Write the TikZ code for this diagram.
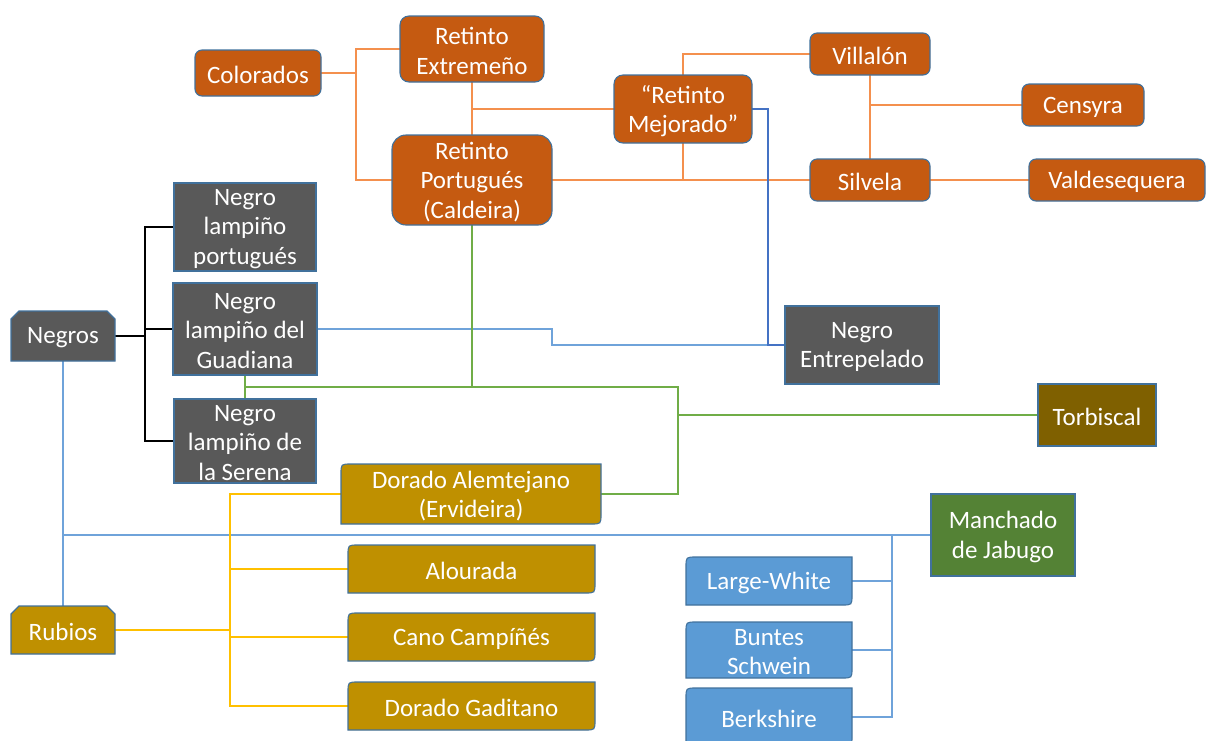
\documentclass[tikz,border=0pt]{standalone}
\usepackage{fontspec}
\setmainfont{Carlito}
\usetikzlibrary{backgrounds}
\definecolor{orfill}{HTML}{C55A11}
\definecolor{gyfill}{HTML}{595959}
\definecolor{gdfill}{HTML}{BF9000}
\definecolor{bufill}{HTML}{5B9BD5}
\definecolor{gnfill}{HTML}{548235}
\definecolor{brfill}{HTML}{7F6000}
\definecolor{boxline}{HTML}{41719C}
\definecolor{orline}{HTML}{F4904E}
\definecolor{buline}{HTML}{6FA3DA}
\definecolor{dbline}{HTML}{4472C4}
\definecolor{gnline}{HTML}{70AD47}
\definecolor{ylline}{HTML}{FFC000}
\tikzset{
  bd/.style={draw=boxline, line width=1.1pt},
  lbl/.style={text=white, font=\fontsize{25}{29.5}\selectfont, align=center, inner sep=0pt, yshift=-2pt},
  anchorbox/.style={inner sep=0pt, outer sep=0pt},
  ol/.style={draw=orline, line width=2pt},
  kl/.style={draw=black, line width=2pt},
  bl/.style={draw=buline, line width=2pt},
  dl/.style={draw=dbline, line width=2pt},
  gl/.style={draw=gnline, line width=2pt},
  yl/.style={draw=ylline, line width=2pt},
}
\newcommand\place[6]{%
  \node[anchorbox, minimum width={#4-#2}, minimum height={#5-#3}, label={[lbl]center:{#6}}] (#1) at ({(#2+#4)/2},{(#3+#5)/2}) {};}
\newcommand\RRbox[8]{%
  \filldraw[bd, fill=#6, rounded corners=#7] (#2,#3) rectangle (#4,#5);
  \place{#1}{#2}{#3}{#4}{#5}{#8}}
\newcommand\SQbox[7]{%
  \filldraw[bd, fill=#6] (#2,#3) rectangle (#4,#5);
  \place{#1}{#2}{#3}{#4}{#5}{#7}}
\newcommand\SNbox[7]{%
  \filldraw[bd, fill=#6] (#2,#3+8) -- (#2+8,#3) -- (#4-8,#3) -- (#4,#3+8) -- (#4,#5) -- (#2,#5) -- cycle;
  \place{#1}{#2}{#3}{#4}{#5}{#7}}
\newcommand\DGbox[7]{%
  \filldraw[bd, fill=#6] (#2,#3+10) .. controls (#2,#3) .. (#2+10,#3) -- (#4,#3) -- (#4,#5-10) .. controls (#4,#5) .. (#4-10,#5) -- (#2,#5) -- cycle;
  \place{#1}{#2}{#3}{#4}{#5}{#7}}
\begin{document}
\begin{tikzpicture}[x=1pt, y=-1pt]
\useasboundingbox (0,0) rectangle (1206,740);
% orange family
\RRbox{colorados}{195}{50}{321}{96}{orfill}{7pt}{Colorados}
\RRbox{rext}{400}{16}{544}{82}{orfill}{9pt}{Retinto\\Extremeño}
\RRbox{rport}{392}{135}{552}{225}{orfill}{14pt}{Retinto\\Portugués\\(Caldeira)}
\RRbox{rmej}{614}{75}{752}{143}{orfill}{9pt}{“Retinto\\Mejorado”}
\RRbox{villalon}{810}{33}{930}{75}{orfill}{7pt}{Villalón}
\RRbox{censyra}{1022}{84}{1144}{126}{orfill}{7pt}{Censyra}
\RRbox{silvela}{810}{159}{930}{201}{orfill}{7pt}{Silvela}
\RRbox{valdes}{1029}{159}{1205}{201}{orfill}{7pt}{Valdesequera}
% black family
\SNbox{negros}{11}{311}{115}{361}{gyfill}{Negros}
\SQbox{nlp}{174}{183}{316}{271}{gyfill}{Negro\\lampiño\\portugués}
\SQbox{nlg}{173}{283}{317}{375}{gyfill}{Negro\\lampiño del\\Guadiana}
\SQbox{nls}{174}{399}{316}{483}{gyfill}{Negro\\lampiño de\\la Serena}
\SQbox{ne}{785}{306}{939}{384}{gyfill}{Negro\\Entrepelado}
\SQbox{torb}{1038}{384}{1156}{446}{brfill}{Torbiscal}
\SQbox{manch}{931}{494}{1075}{576}{gnfill}{Manchado\\de Jabugo}
% golden family
\SNbox{rubios}{11}{606}{115}{654}{gdfill}{Rubios}
\DGbox{da}{341}{464}{601}{524}{gdfill}{Dorado Alemtejano\\(Ervideira)}
\DGbox{alou}{348}{545}{595}{593}{gdfill}{Alourada}
\DGbox{cano}{348}{613}{595}{661}{gdfill}{Cano Campíñés}
\DGbox{dg}{348}{682}{595}{730}{gdfill}{Dorado Gaditano}
% blue family
\DGbox{lw}{686}{557}{852}{605}{bufill}{Large-White}
\DGbox{bs}{686}{622}{852}{678}{bufill}{Buntes\\Schwein}
\DGbox{bk}{686}{688}{852}{746}{bufill}{Berkshire}
\begin{pgfonlayer}{background}
% junctions
\coordinate (jc) at (356,73);
\coordinate (jn) at (145,336);
\coordinate (g1) at (245,387);
\coordinate (g2) at (678,387);
\coordinate (jy) at (230,630);
\coordinate (jm) at (892,535);
\coordinate (jb) at (552,329);
\coordinate (jd) at (768,109);
% orange
\draw[ol] (colorados.east) -- (jc);
\draw[ol] (rext.west) -| (jc) |- (rport.west);
\draw[ol] (rext.south) -- (rport.north);
\draw[ol] (rmej.west) -- (rmej.west -| rext.south);
\draw[ol] (rport.east) -- (silvela.west);
\draw[ol] (rmej.south) -- (rmej.south |- silvela.west);
\draw[ol] (rmej.north) |- (villalon.west);
\draw[ol] (villalon.south) -- (silvela.north);
\draw[ol] (censyra.west) -- (censyra.west -| villalon.south);
\draw[ol] (silvela.east) -- (valdes.west);
% black
\draw[kl] (negros.east) -- (jn);
\draw[kl] (nlp.west) -| (jn) |- (nls.west);
\draw[kl] (nlg.west) -- (nlg.west -| jn);
% blue
\draw[bl] (negros.south) -- (rubios.north);
\draw[bl] (manch.west) -- (manch.west -| negros.south);
\draw[bl] (lw.east) -- (lw.east -| jm);
\draw[bl] (bs.east) -- (bs.east -| jm);
\draw[bl] (bk.east) -| (jm);
\draw[bl] (nlg.east) -- (jb) |- (ne.west);
\draw[dl] (rmej.east) -- (jd) |- (ne.west);
% green
\draw[gl] (nlg.south) -- (nls.north);
\draw[gl] (g1) -- (g2) |- (da.east);
\draw[gl] (rport.south) -- (rport.south |- g1);
\draw[gl] (torb.west) -- (torb.west -| g2);
% yellow
\draw[yl] (rubios.east) -- (jy);
\draw[yl] (da.west) -| (jy) |- (dg.west);
\draw[yl] (alou.west) -- (alou.west -| jy);
\draw[yl] (cano.west) -- (cano.west -| jy);
\end{pgfonlayer}
\end{tikzpicture}
\end{document}
